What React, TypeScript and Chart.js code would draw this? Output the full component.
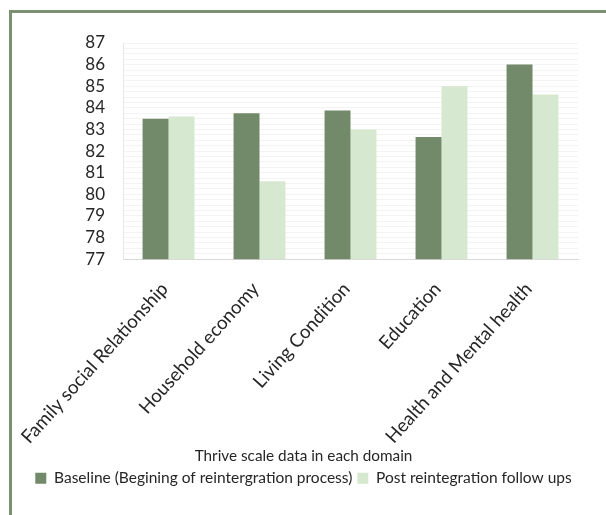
import React, { useEffect, useRef } from "react";
import { Chart, registerables } from "chart.js";

Chart.register(...registerables);

const categories = [
  "Family social Relationship",
  "Household economy",
  "Living Condition",
  "Education",
  "Health and Mental health",
];
const baselineValues = [83.5, 83.75, 83.88, 82.65, 86.0];
const followUpValues = [83.6, 80.6, 83.0, 85.0, 84.62];
const seriesNames = [
  "Baseline (Begining of reintergration process)",
  "Post reintegration follow ups",
];
const axisTitle = "Thrive scale data in each domain";
const yMin = 77;
const yMax = 87;

export default function App() {
  const ref = useRef<HTMLCanvasElement | null>(null);

  useEffect(() => {
    if (!ref.current) return;
    const chart = new Chart(ref.current, {
      type: "bar",
      data: {
        labels: categories,
        datasets: [
          {
            label: seriesNames[0],
            data: baselineValues,
            backgroundColor: "#728a69",
            borderWidth: 0,
            categoryPercentage: 0.57,
            barPercentage: 1.0,
          },
          {
            label: seriesNames[1],
            data: followUpValues,
            backgroundColor: "#d6e9d0",
            borderWidth: 0,
            categoryPercentage: 0.57,
            barPercentage: 1.0,
          },
        ],
      },
      options: {
        responsive: false,
        animation: false,
        devicePixelRatio: 1,
        layout: { padding: { left: 29, right: 28, top: 43, bottom: 19 } },
        scales: {
          x: {
            afterFit: (scale: any) => {
              scale.height = 185;
              scale.paddingLeft = 0;
              scale.paddingRight = 0;
            },
            grid: { display: false, drawTicks: false },
            border: { display: true, color: "#d9d9d9" },
            ticks: {
              minRotation: 48,
              maxRotation: 48,
              autoSkip: false,
              padding: 19,
              labelOffset: -4,
              color: "#262626",
              font: { family: "Lato", size: 18.7 },
            },
          },
          y: {
            min: yMin,
            max: yMax,
            afterFit: (scale: any) => {
              scale.width = 94;
            },
            grid: { color: "#dedede", drawTicks: false },
            border: { display: true, color: "#e8e8e8" },
            ticks: {
              stepSize: 1,
              autoSkip: false,
              padding: 18,
              color: "#262626",
              font: { family: "Lato", size: 17 },
            },
          },
          yMinor: {
            position: "left",
            min: yMin,
            max: yMax,
            display: true,
            afterFit: (scale: any) => {
              scale.width = 0;
            },
            grid: { color: "#f3f3f3", drawTicks: false },
            border: { display: false },
            ticks: { display: false, stepSize: 0.25, autoSkip: false },
          },
        },
        plugins: {
          tooltip: { enabled: false },
          title: {
            display: true,
            text: axisTitle,
            position: "bottom",
            weight: 500,
            color: "#262626",
            font: { family: "Lato", size: 15.3, weight: "normal" },
            padding: { top: 3, bottom: 0 },
          },
          legend: {
            position: "bottom",
            labels: {
              boxWidth: 11,
              boxHeight: 11,
              color: "#262626",
              font: { family: "Lato", size: 15.5 },
              padding: 5,
            },
          },
        },
      },
    } as any);
    return () => chart.destroy();
  }, []);

  return (
    <div
      style={{
        position: "fixed",
        left: 0,
        top: 0,
        width: 606,
        height: 515,
        overflow: "hidden",
        background: "#ffffff",
      }}
    >
      <div
        style={{
          position: "absolute",
          left: 9,
          top: 10,
          width: 700,
          height: 600,
          border: "3px solid #7a9070",
          boxSizing: "border-box",
        }}
      />
      <canvas
        ref={ref}
        width={606}
        height={515}
        style={{ position: "absolute", left: 0, top: 0, width: 606, height: 515 }}
      />
    </div>
  );
}
